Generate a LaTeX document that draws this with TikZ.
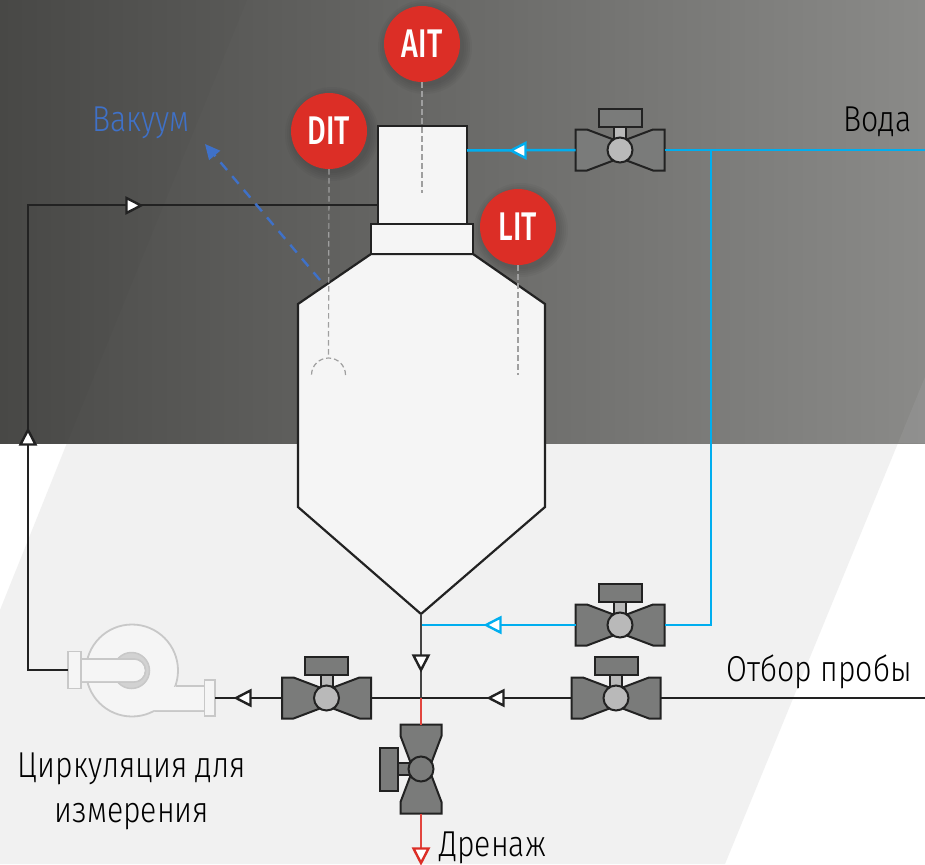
\documentclass[tikz,border=0pt]{standalone}
\usepackage{fontspec}
\setmainfont[FakeStretch=0.84]{Fira Sans Light}
\newfontfamily\tagfont[FakeStretch=0.72]{Fira Sans Medium}
\usetikzlibrary{arrows.meta}
\definecolor{flowblue}{HTML}{00AEEF}
\definecolor{vacblue}{HTML}{3F71C8}
\definecolor{ink}{HTML}{222222}
\definecolor{alarm}{HTML}{DC2E26}
\definecolor{drainred}{HTML}{E2453E}
\definecolor{bodygrey}{HTML}{7A7B7A}
\definecolor{ballgrey}{HTML}{B9B9B9}
\definecolor{tankfill}{HTML}{F5F5F5}
\definecolor{pumpline}{HTML}{C8C8C8}
\tikzset{
  x=1pt,y=-1pt,
  pipe/.style={line width=2.3pt,draw=ink},
  waterpipe/.style={line width=2.5pt,draw=flowblue},
  drainpipe/.style={line width=2.3pt,draw=drainred},
  feedpipe/.style={line width=2.3pt,draw=ink!85},
  tankline/.style={line width=2.2pt,draw=ink,fill=tankfill},
  probe/.style={line width=1.2pt,draw=gray!75,dash pattern=on 5.5pt off 3.5pt},
  pumpshape/.style={line width=1.8pt,draw=pumpline,fill=tankfill},
  label/.style={inner sep=0pt,font=\fontsize{36}{40}\selectfont},
  tagnode/.style={circle,fill=alarm,minimum size=76pt,inner sep=0pt,text=white,font=\tagfont\fontsize{40}{44}\selectfont},
  pics/valve/.style={code={
    \draw[line width=2pt,draw=ink,fill=#1] (-6,-24) rectangle (6,-8);
    \draw[line width=2pt,draw=ink,fill=bodygrey] (-21.5,-41) rectangle (21.5,-23);
    \draw[line width=2pt,draw=ink,fill=bodygrey,line join=miter]
      (-44.5,-20.5)--(-33,-20.5)--(0,-8)--(33,-20.5)--(44.5,-20.5)--(44.5,20.5)--(33,20.5)--(0,8)--(-33,20.5)--(-44.5,20.5)--cycle;
    \draw[line width=2pt,draw=ink,fill=#1] (0,0) circle (12.5);
    \coordinate (-w) at (-44.5,0);
    \coordinate (-e) at (44.5,0);
  }},
  pics/flowmark/.style 2 args={code={
    \draw[line width=2.4pt,draw=#1,fill=#2,line join=miter] (-8,0)--(6.5,-7.5)--(6.5,7.5)--cycle;
  }},
}
\begin{document}
\begin{tikzpicture}
\useasboundingbox (0,0) rectangle (925,864);
% background
\fill[white] (0,0) rectangle (925,864);
\fill[gray!11] (67,443)--(0,610)--(0,864)--(725,864)--(898,443)--cycle;
\shade[left color={rgb,255:red,74;green,74;blue,72},right color={rgb,255:red,138;green,138;blue,136}] (0,0) rectangle (925,443);
\fill[black,opacity=.02] (0,0)--(247,0)--(67,443)--(0,443)--cycle;
\fill[white,opacity=.06] (925,377)--(898,443)--(925,443)--cycle;

% soft shadows of the instrument tags
\foreach \c in {(425,47),(332,134),(521,230)}{
  \foreach \d in {47,45,43,41,39}{\fill[black,opacity=.03] \c circle (\d);}
}

% tank
\draw[tankline,line join=miter] (371,254)--(473,254)--(545,304)--(545,507)--(421,614)--(298,507)--(298,304)--cycle;
\node[draw=ink,line width=2.2pt,fill=tankfill,minimum width=89pt,minimum height=98pt,inner sep=0pt,outer sep=0pt] (top) at (422.5,175) {};
\node[draw=ink,line width=2.2pt,fill=tankfill,minimum width=102pt,minimum height=30pt,inner sep=0pt,outer sep=0pt] (neck) at (422,239) {};
\coordinate (apex) at (421,614);
\coordinate (topret) at (378,205);
\coordinate (topin) at (467,150.5);

\node[tagnode] (ait) at (422,44) {AIT};
\node[tagnode] (dit) at (329,131) {DIT};
\node[tagnode] (lit) at (518,227) {LIT};
\coordinate (aitend) at (422,193);
\coordinate (ditend) at (328.5,358);
\coordinate (litend) at (518,375);
\draw[probe] (ait.south)--(aitend);
\draw[probe] (dit.south)--(ditend);
\draw[probe] (lit.south)--(litend);
\draw[line width=1.2pt,draw=gray!75,dash pattern=on 5pt off 3pt] (345.5,375) arc[start angle=0,end angle=-180,radius=17];

% valves
\pic (vw) at (620,150) {valve=ballgrey};
\pic (vf) at (620,625) {valve=ballgrey};
\pic (vs) at (616,698) {valve=ballgrey};
\pic (vc) at (326.5,698) {valve=ballgrey};
\pic[rotate=90] (vd) at (421,769) {valve=bodygrey};

% pump
\draw[line width=1.8pt,draw=pumpline,fill=tankfill] (132,670.5) circle (46);
\draw[pumpshape] (155,711)--(204.5,711)--(204.5,686)--(176,686);
\fill[tankfill] (160,687)--(204,687)--(204,710)--(150,710)--cycle;
\node[draw=pumpline,line width=1.8pt,fill=tankfill,minimum width=10.5pt,minimum height=36.5pt,inner sep=0pt,outer sep=0pt] (pout) at (209.7,698) {};
\draw[line width=1.5pt,draw=pumpline,fill=gray!35] (131.5,670.5) circle (18);
\draw[pumpshape] (81,659)--(134,659) arc[start angle=-90,end angle=90,radius=11.5]--(81,682);
\fill[tankfill] (81,660)--(134,660) arc[start angle=-90,end angle=90,radius=10.5]--(81,681)--cycle;
\node[draw=pumpline,line width=1.8pt,fill=tankfill,minimum width=13pt,minimum height=37pt,inner sep=0pt,outer sep=0pt] (pin) at (74.5,670) {};

% black lines
\coordinate (leftup) at (28,205);
\coordinate (leftdown) at (28,670);
\coordinate (tee) at (421,698);
\coordinate (sample) at (925,698);
\draw[pipe,line join=miter] (topret)--(leftup)--(leftdown)--(pin.west);
\draw[pipe] (vc-w)--(pout.east);
\draw[pipe] (vs-w)--(vc-e);
\draw[pipe] (vs-e)--(sample);
\draw[feedpipe] (apex)--(tee);
\coordinate (drainend) at (421,860);
\draw[drainpipe] (tee)--(vd-e);
\draw[drainpipe] (vd-w)--(drainend);

% water
\coordinate (wstart) at (925,150);
\coordinate (wtee) at (711,150);
\coordinate (wbot) at (711,625);
\coordinate (wfeed) at (422,625);
\draw[waterpipe] (vw-e)--(wstart);
\draw[waterpipe] (vw-w)--(topin);
\draw[waterpipe,line join=miter] (wtee)--(wbot)--(vf-e);
\draw[waterpipe] (vf-w)--(wfeed);

% vacuum
\coordinate (vacfrom) at (320,280);
\coordinate (vacto) at (205,144);
\draw[vacblue,line width=2.4pt,dash pattern=on 10pt off 8pt,-{Triangle[length=15pt,width=14pt]}] (vacfrom)--(vacto);

% flow marks
\pic[rotate=180] at (133,205.5) {flowmark={ink}{white}};
\pic at (244,698) {flowmark={ink}{white}};
\pic at (497,698) {flowmark={ink}{white}};
\pic at (494,625) {flowmark={flowblue}{white}};
\pic at (519,150.5) {flowmark={flowblue}{white}};
\pic[rotate=-90] at (28,438) {flowmark={ink}{white}};
\pic[rotate=90] at (421,662) {flowmark={ink}{white}};
\pic[rotate=90] at (421,855) {flowmark={alarm}{white}};

% labels
\node[label,text=vacblue,anchor=base west] (lvac) at (92,131) {Вакуум};
\node[label,anchor=base east] (lwater) at (912,131) {Вода};
\node[label,anchor=base east] (lsample) at (912,681) {Отбор пробы};
\node[label,anchor=base] (lcirc) at (132,777) {Циркуляция для};
\node[label,anchor=base] (lmeas) at (132,822) {измерения};
\node[label,anchor=base west] (ldrain) at (439,856) {Дренаж};
\end{tikzpicture}
\end{document}
